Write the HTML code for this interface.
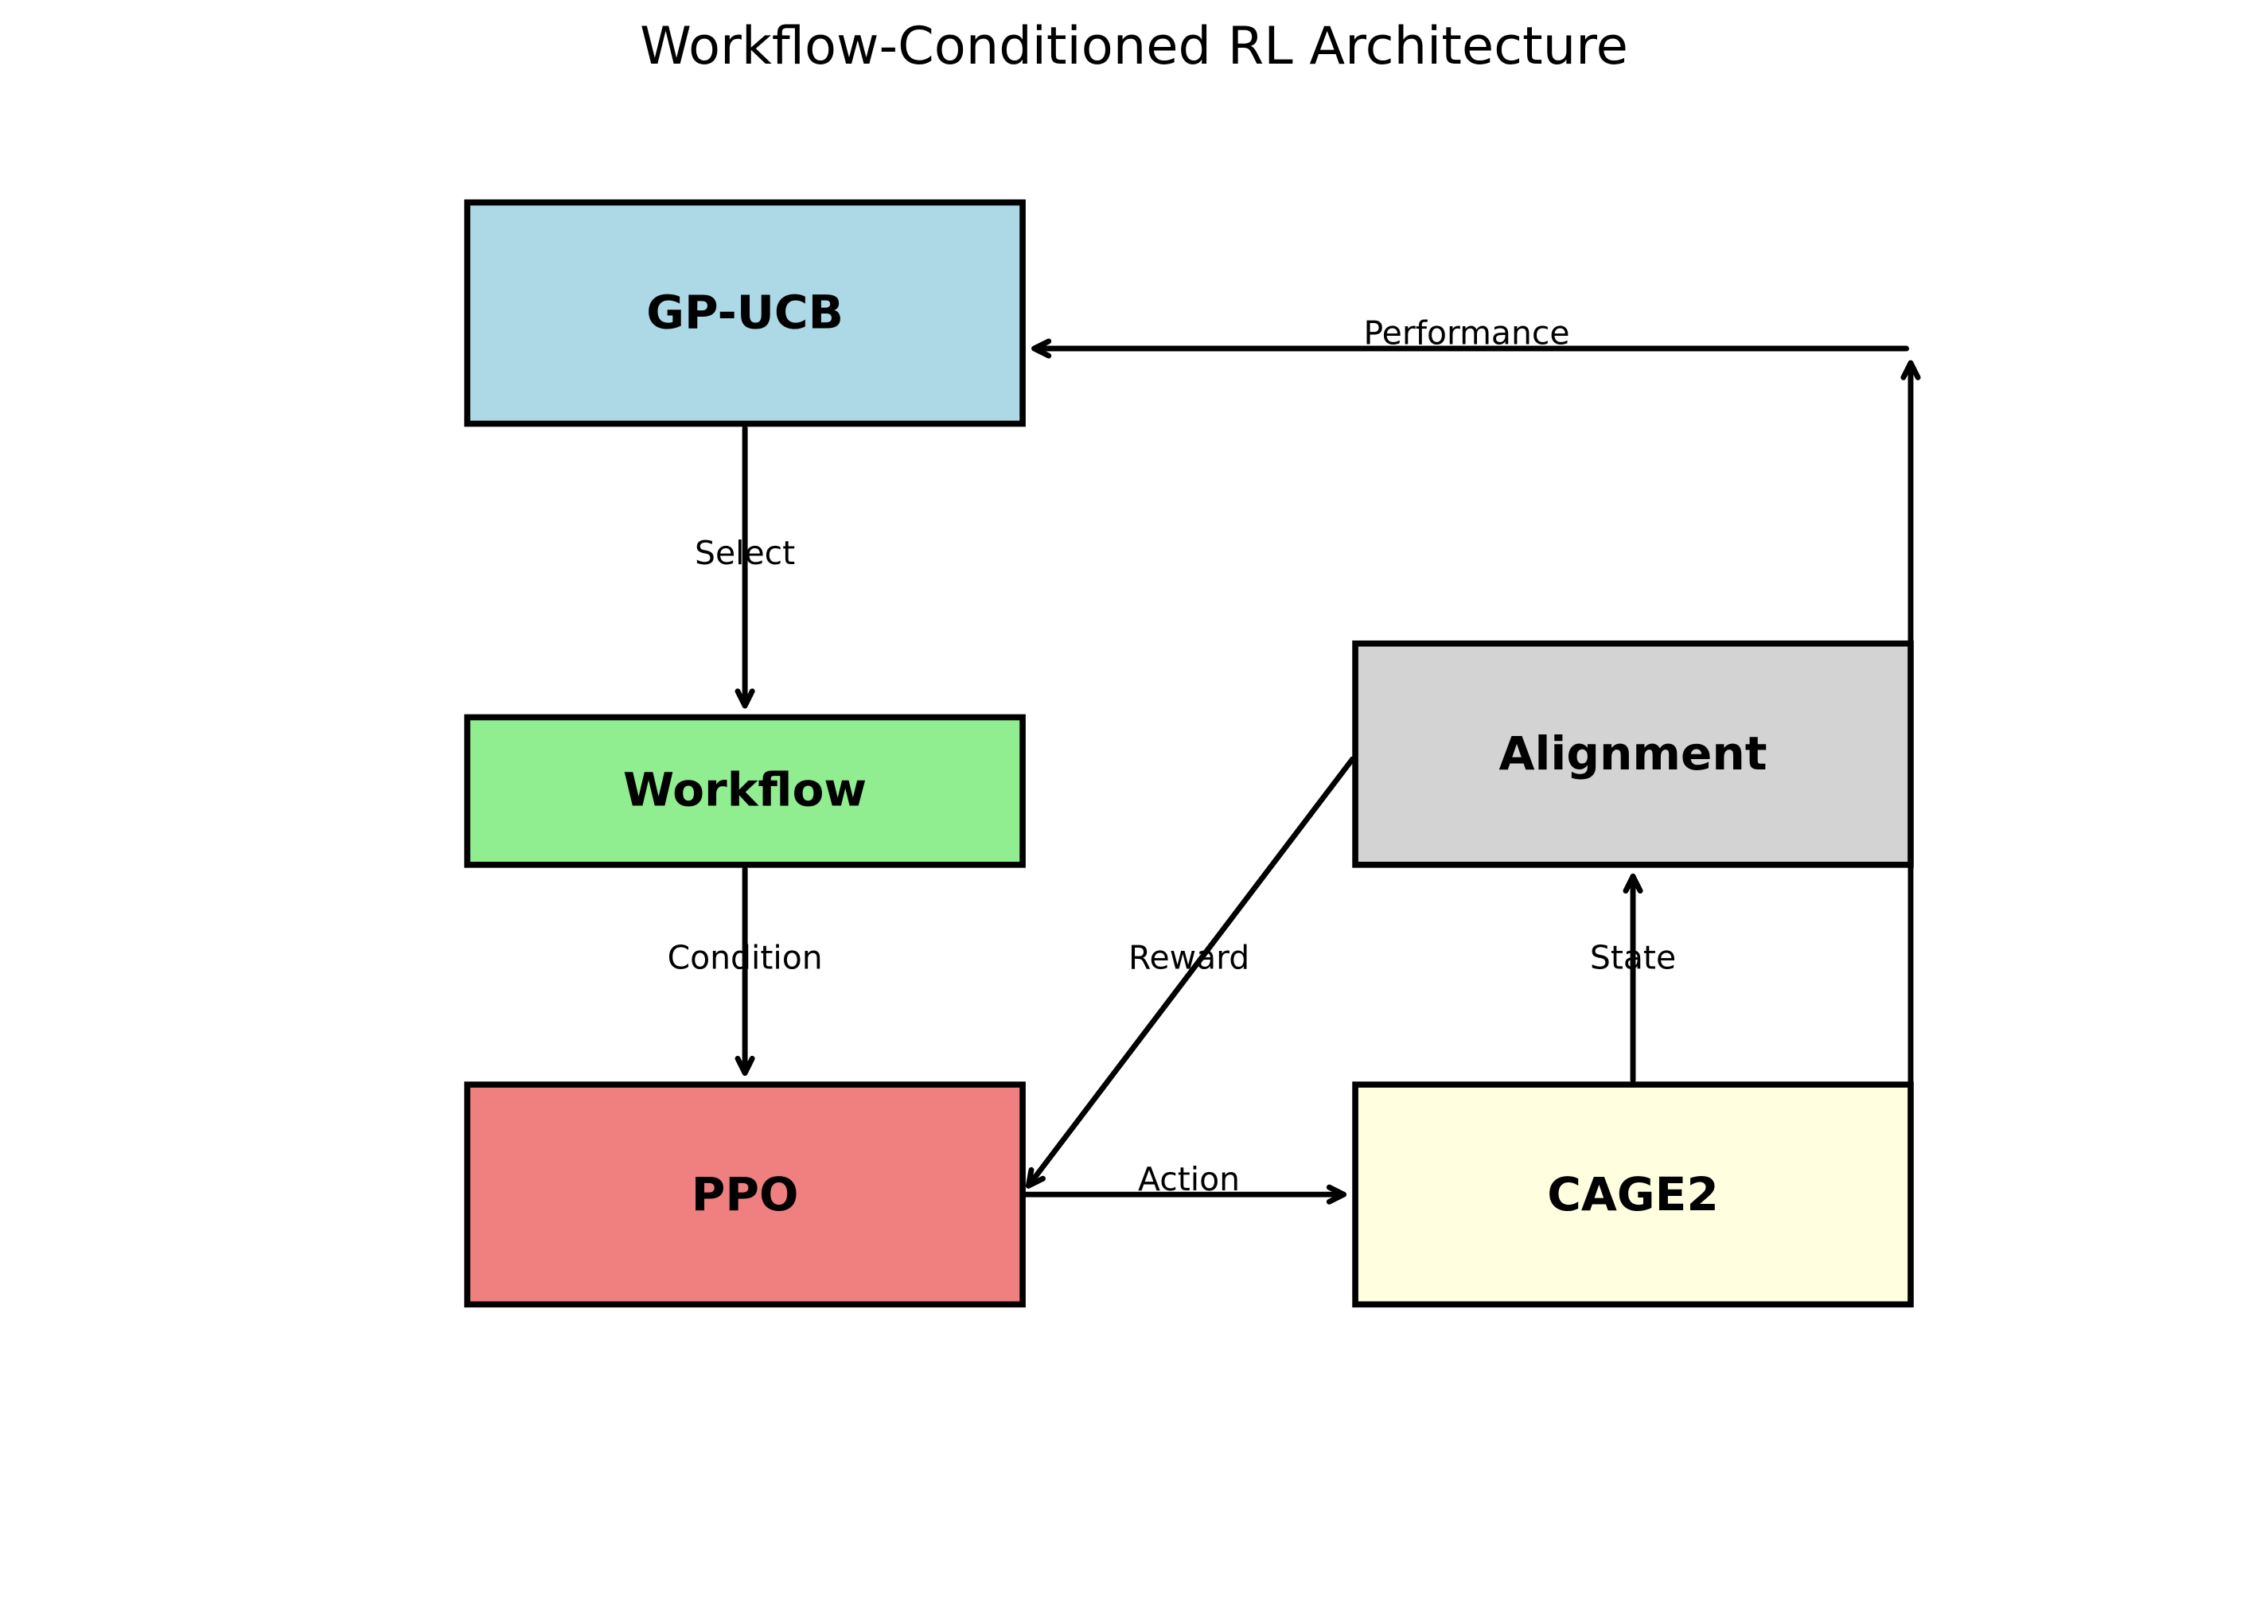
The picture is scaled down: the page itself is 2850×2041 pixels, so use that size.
<!DOCTYPE html>
<html><head><meta charset="utf-8"><style>
html,body{margin:0;padding:0;background:#fff;}
svg{display:block;}
text{font-family:"DejaVu Sans","Liberation Sans",sans-serif;}
</style></head><body>
<svg width="2850" height="2041" viewBox="0 0 1568 1123" xmlns="http://www.w3.org/2000/svg">
<rect width="1568" height="1123" fill="#fff"/>
<text x="784" y="44" font-size="36" text-anchor="middle">Workflow-Conditioned RL Architecture</text>
<g stroke="#000" stroke-width="4.2">
<rect x="323" y="140" width="384" height="153" fill="#add8e6"/>
<rect x="323" y="496" width="384" height="102" fill="#90ee90"/>
<rect x="323" y="750" width="384" height="152" fill="#f08080"/>
<rect x="937" y="445" width="384" height="153" fill="#d3d3d3"/>
<rect x="937" y="750" width="384" height="152" fill="#ffffe0"/>
</g>
<g font-weight="bold" font-size="32" text-anchor="middle">
<text x="515" y="227">GP-UCB</text>
<text x="515" y="557">Workflow</text>
<text x="515" y="837">PPO</text>
<text x="1129" y="532">Alignment</text>
<text x="1129" y="837">CAGE2</text>
</g>
<g stroke="#000" stroke-width="3.8" fill="none" stroke-linecap="round" stroke-linejoin="round">
<line x1="515" y1="296" x2="515" y2="488"/><polyline points="510,478 515,488 520,478"/>
<line x1="515" y1="601" x2="515" y2="742"/><polyline points="510,732 515,742 520,732"/>
<line x1="709" y1="826" x2="929" y2="826"/><polyline points="919,821 929,826 919,831"/>
<line x1="1129" y1="747" x2="1129" y2="606"/><polyline points="1124,616 1129,606 1134,616"/>
<line x1="935" y1="525" x2="711" y2="820"/><polyline points="713,809 711,820 721,815"/>
<line x1="1321" y1="820" x2="1321" y2="251"/><polyline points="1316,261 1321,251 1326,261"/>
<line x1="1318" y1="241" x2="715" y2="241"/><polyline points="725,236 715,241 725,246"/>
</g>
<g font-size="22.5" text-anchor="middle">
<text x="515" y="390">Select</text>
<text x="515" y="670">Condition</text>
<text x="822" y="670">Reward</text>
<text x="1129" y="670">State</text>
<text x="822" y="823">Action</text>
<text x="1014" y="238">Performance</text>
</g>
</svg>
</body></html>
